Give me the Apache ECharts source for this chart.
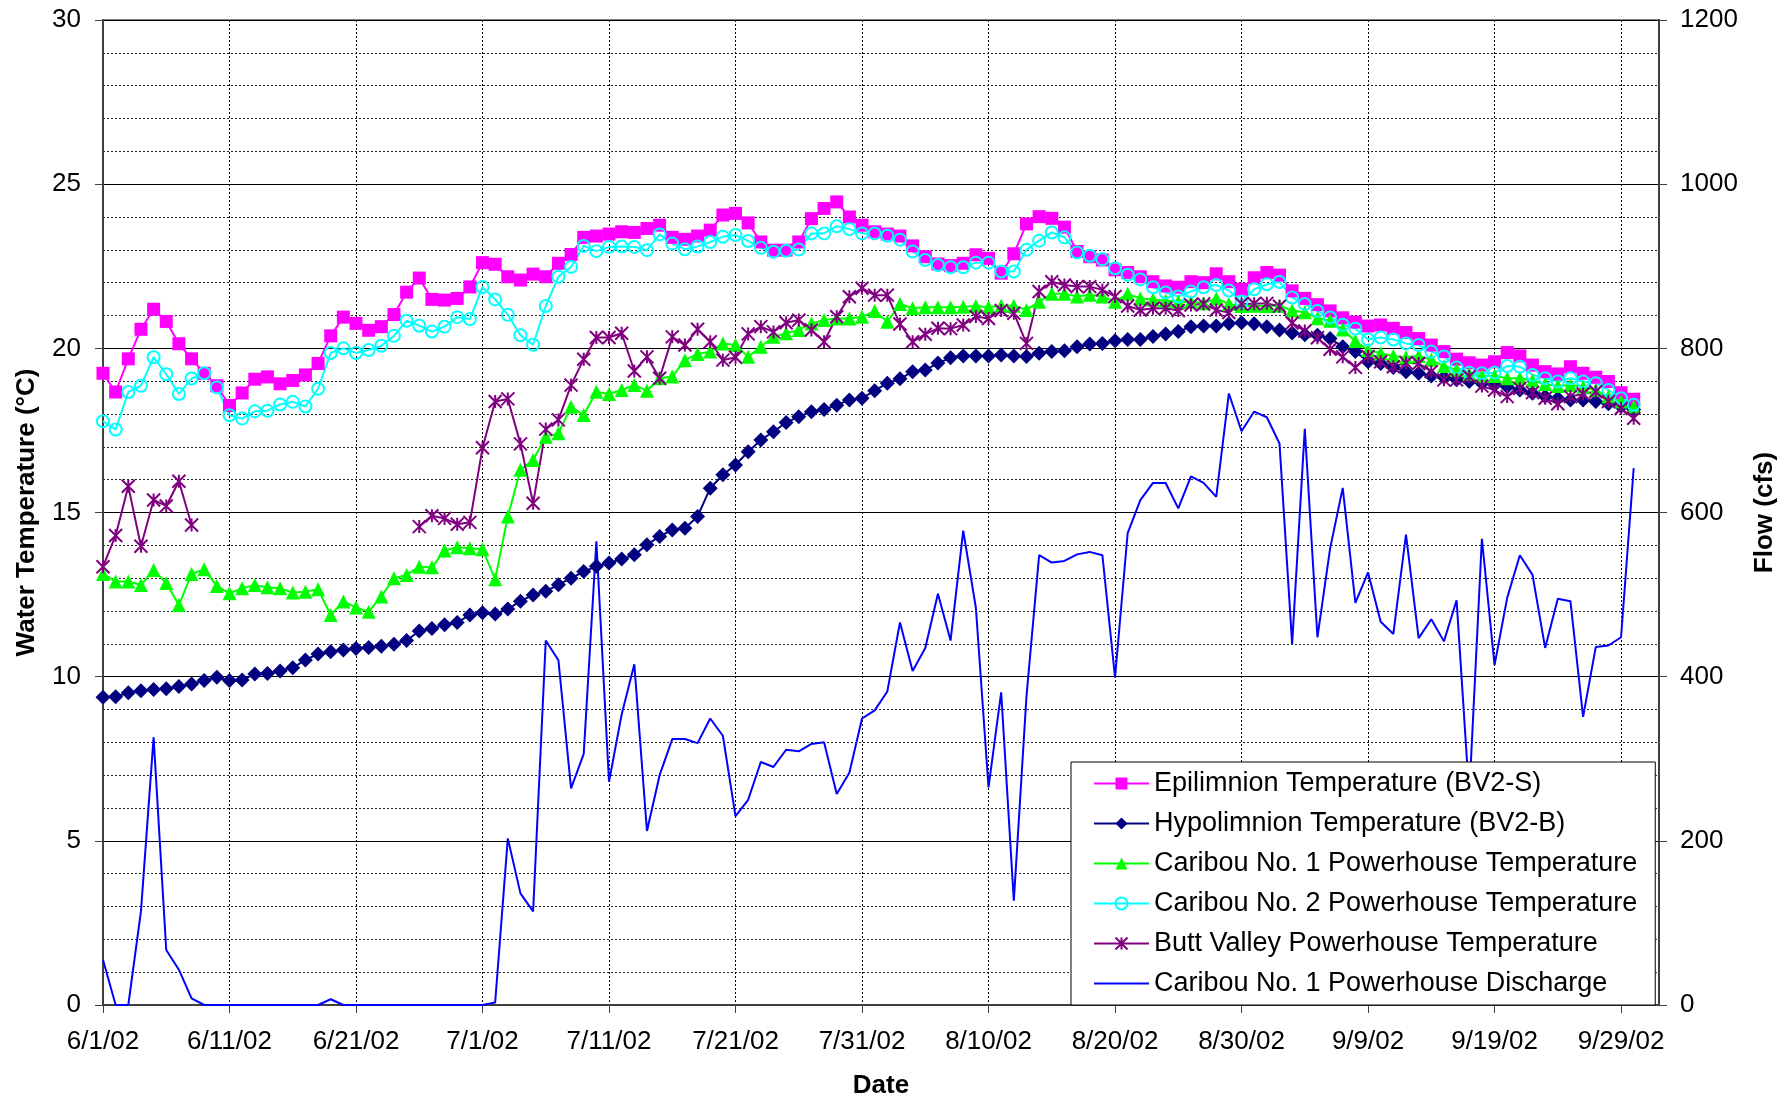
<!DOCTYPE html>
<html>
<head>
<meta charset="utf-8">
<script src="https://cdn.jsdelivr.net/npm/echarts@6/dist/echarts.min.js"></script>
<style>
  html, body { margin: 0; padding: 0; background: #fff; }
  #chart { width: 1791px; height: 1105px; }
</style>
</head>
<body>
<div id="chart"></div>
<script>
// daily dates 6/1/02 .. 10/2/02 (axis runs two days past the last sample)
var dates = [];
for (var i = 0; i < 124; i++) {
  var d = new Date(2002, 5, 1 + i);
  dates.push((d.getMonth() + 1) + '/' + d.getDate() + '/02');
}

var epilimnion = [
  19.24, 18.67, 19.68, 20.58, 21.19, 20.82, 20.14, 19.68, 19.24, 18.86,
  18.26, 18.64, 19.06, 19.13, 18.92, 19.02, 19.19, 19.54, 20.38, 20.95,
  20.76, 20.55, 20.66, 21.03, 21.71, 22.14, 21.49, 21.47, 21.52, 21.87,
  22.61, 22.56, 22.18, 22.08, 22.26, 22.18, 22.59, 22.86, 23.38, 23.42,
  23.48, 23.55, 23.53, 23.65, 23.75, 23.38, 23.32, 23.42, 23.6, 24.06,
  24.11, 23.82, 23.24, 22.99, 22.99, 23.24, 23.95, 24.26, 24.46, 24.0,
  23.75, 23.55, 23.48, 23.42, 23.12, 22.79, 22.57, 22.52, 22.59, 22.85,
  22.74, 22.29, 22.88, 23.79, 24.01, 23.96, 23.69, 22.95, 22.79, 22.69,
  22.39, 22.31, 22.18, 22.03, 21.9, 21.86, 22.03, 22.0, 22.27, 22.03,
  21.8, 22.15, 22.31, 22.23, 21.75, 21.52, 21.33, 21.14, 20.93, 20.8,
  20.68, 20.71, 20.61, 20.48, 20.3, 20.1, 19.9, 19.67, 19.56, 19.49,
  19.59, 19.87, 19.77, 19.49, 19.29, 19.22, 19.44, 19.24, 19.12, 18.99,
  18.65, 18.45
];

var hypolimnion = [
  9.37, 9.39, 9.51, 9.57, 9.61, 9.63, 9.7, 9.78, 9.88, 9.98,
  9.88, 9.9, 10.08, 10.1, 10.17, 10.27, 10.51, 10.69, 10.76, 10.81,
  10.86, 10.89, 10.93, 10.99, 11.1, 11.39, 11.47, 11.58, 11.65, 11.88,
  11.95, 11.91, 12.06, 12.3, 12.49, 12.6, 12.8, 13.0, 13.2, 13.36,
  13.46, 13.58, 13.71, 14.02, 14.27, 14.47, 14.52, 14.88, 15.74, 16.15,
  16.45, 16.85, 17.21, 17.46, 17.74, 17.92, 18.07, 18.14, 18.27, 18.43,
  18.48, 18.71, 18.94, 19.07, 19.29, 19.34, 19.55, 19.71, 19.77, 19.77,
  19.77, 19.8, 19.77, 19.75, 19.85, 19.9, 19.93, 20.05, 20.13, 20.15,
  20.23, 20.27, 20.27, 20.36, 20.44, 20.51, 20.66, 20.68, 20.68, 20.76,
  20.78, 20.75, 20.66, 20.56, 20.47, 20.41, 20.4, 20.3, 20.05, 19.9,
  19.59, 19.54, 19.42, 19.29, 19.24, 19.16, 19.12, 19.04, 18.99, 18.94,
  18.88, 18.83, 18.73, 18.63, 18.53, 18.48, 18.43, 18.43, 18.38, 18.31,
  18.23, 18.14
];

var caribou1Temp = [
  13.13, 12.9, 12.9, 12.79, 13.25, 12.85, 12.18, 13.13, 13.27, 12.76,
  12.54, 12.69, 12.79, 12.72, 12.69, 12.56, 12.59, 12.66, 11.88, 12.29,
  12.11, 11.98, 12.44, 13.0, 13.1, 13.35, 13.33, 13.84, 13.94, 13.91,
  13.88, 12.97, 14.88, 16.3, 16.6, 17.31, 17.41, 18.22, 17.97, 18.68,
  18.61, 18.73, 18.88, 18.71, 19.09, 19.14, 19.64, 19.83, 19.9, 20.15,
  20.1, 19.74, 20.05, 20.35, 20.46, 20.56, 20.76, 20.86, 20.91, 20.91,
  20.96, 21.14, 20.81, 21.35, 21.22, 21.25, 21.25, 21.25, 21.27, 21.29,
  21.25, 21.3, 21.3, 21.17, 21.42, 21.66, 21.66, 21.58, 21.63, 21.58,
  21.42, 21.66, 21.52, 21.49, 21.45, 21.42, 21.42, 21.37, 21.52, 21.35,
  21.29, 21.3, 21.29, 21.3, 21.15, 21.1, 20.92, 20.84, 20.57, 20.22,
  19.95, 19.85, 19.77, 19.73, 19.77, 19.65, 19.46, 19.34, 19.22, 19.16,
  19.16, 19.09, 19.09, 19.02, 18.91, 18.85, 18.88, 18.83, 18.73, 18.53,
  18.38, 18.23
];

var caribou2Temp = [
  17.78, 17.53, 18.67, 18.86, 19.73, 19.21, 18.61, 19.08, 19.24, 18.81,
  17.96, 17.86, 18.08, 18.1, 18.29, 18.37, 18.23, 18.77, 19.86, 20.0,
  19.86, 19.95, 20.08, 20.38, 20.84, 20.69, 20.51, 20.66, 20.95, 20.89,
  21.87, 21.49, 21.02, 20.4, 20.11, 21.29, 22.18, 22.48, 23.12, 22.96,
  23.09, 23.1, 23.09, 22.99, 23.47, 23.19, 23.02, 23.1, 23.24, 23.4,
  23.45, 23.27, 23.06, 22.94, 22.97, 23.01, 23.5, 23.5, 23.72, 23.63,
  23.5, 23.5, 23.43, 23.31, 22.95, 22.69, 22.54, 22.47, 22.47, 22.61,
  22.61, 22.34, 22.34, 23.0, 23.28, 23.53, 23.38, 22.92, 22.82, 22.71,
  22.44, 22.24, 22.1, 21.86, 21.7, 21.58, 21.73, 21.86, 21.93, 21.76,
  21.42, 21.8, 21.95, 22.02, 21.55, 21.35, 21.14, 20.94, 20.72, 20.6,
  20.27, 20.33, 20.27, 20.15, 20.1, 19.9, 19.75, 19.42, 19.26, 19.24,
  19.26, 19.46, 19.44, 19.19, 19.09, 18.99, 19.09, 18.99, 18.94, 18.73,
  18.48, 18.28
];

// no readings 6/9 - 6/25
var buttValleyTemp = [
  13.35, 14.3, 15.8, 13.97, 15.38, 15.2, 15.95, 14.62, null, null,
  null, null, null, null, null, null, null, null, null, null,
  null, null, null, null, null, 14.57, 14.9, 14.82, 14.64, 14.7,
  16.97, 18.38, 18.46, 17.09, 15.28, 17.54, 17.82, 18.88, 19.67, 20.33,
  20.33, 20.46, 19.31, 19.74, 19.09, 20.35, 20.1, 20.58, 20.2, 19.64,
  19.73, 20.44, 20.66, 20.5, 20.78, 20.86, 20.56, 20.2, 20.96, 21.57,
  21.83, 21.62, 21.62, 20.74, 20.2, 20.43, 20.61, 20.6, 20.71, 20.97,
  20.91, 21.15, 21.07, 20.15, 21.73, 22.03, 21.93, 21.88, 21.88, 21.78,
  21.58, 21.29, 21.17, 21.22, 21.22, 21.15, 21.32, 21.35, 21.17, 21.09,
  21.35, 21.36, 21.37, 21.28, 20.77, 20.53, 20.32, 19.97, 19.74, 19.42,
  19.75, 19.59, 19.44, 19.56, 19.54, 19.29, 19.04, 19.04, 19.14, 18.85,
  18.73, 18.53, 18.78, 18.65, 18.48, 18.31, 18.53, 18.61, 18.68, 18.38,
  18.17, 17.87
];

var caribou1Flow = [
  55, 0, 0, 114, 326, 67, 43, 8, 0, 0,
  0, 0, 0, 0, 0, 0, 0, 0, 7, 0,
  0, 0, 0, 0, 0, 0, 0, 0, 0, 0,
  0, 3, 203, 136, 114, 444, 420, 264, 306, 565,
  272, 354, 415, 212, 280, 324, 324, 319, 349, 328,
  230, 250, 296, 290, 311, 309, 318, 320, 257, 283,
  349, 359, 382, 466, 407, 435, 501, 444, 578, 484,
  265, 381, 127, 376, 548, 539, 541, 549, 552, 548,
  399, 575, 615, 636, 636, 605, 644, 636, 619, 745,
  699, 723, 716, 684, 440, 702, 448, 556, 630, 490,
  527, 467, 452, 573, 447, 470, 443, 493, 255, 568,
  414, 496, 548, 524, 435, 495, 492, 351, 436, 438,
  448, 654
];

var tempTicks = [0, 30, 5];
var flowTicks = [0, 1200, 200];

var FONT = 'Liberation Sans';
var starPath = 'path://M0,0L10,10M10,0L0,10M5,0L5,10';
var plainLineIcon = 'path://M0,0L55,0L55,2.2L0,2.2Z';

function tempSeries(name, data, color, symbol, size, itemStyle) {
  return {
    name: name,
    type: 'line',
    data: data,
    yAxisIndex: 0,
    symbol: symbol,
    symbolSize: size,
    showAllSymbol: true,
    connectNulls: false,
    lineStyle: {color: color, width: 2},
    itemStyle: itemStyle || {color: color},
    emphasis: {disabled: true}
  };
}

var myChart = echarts.init(document.getElementById('chart'), null, {renderer: 'canvas'});

myChart.setOption({
  animation: false,
  backgroundColor: '#fff',
  textStyle: {fontFamily: FONT, color: '#000'},
  grid: {
    left: 103, right: 132, top: 20, bottom: 100,
    show: true, borderColor: '#808080', borderWidth: 2, backgroundColor: '#fff'
  },
  legend: {
    orient: 'vertical',
    left: 1071,
    top: 762,
    padding: [8, 18, 8, 22],
    itemWidth: 55,
    itemHeight: 15,
    itemGap: 13,
    backgroundColor: '#fff',
    borderColor: '#000',
    borderWidth: 1,
    textStyle: {fontFamily: FONT, fontSize: 27, color: '#000'},
    data: [
      'Epilimnion Temperature (BV2-S)',
      'Hypolimnion Temperature (BV2-B)',
      'Caribou No. 1 Powerhouse Temperature',
      'Caribou No. 2 Powerhouse Temperature',
      'Butt Valley Powerhouse Temperature',
      {name: 'Caribou No. 1 Powerhouse Discharge', icon: plainLineIcon, itemStyle: {color: '#0000FF'}}
    ]
  },
  xAxis: {
    type: 'category',
    data: dates,
    boundaryGap: false,
    name: 'Date',
    nameLocation: 'middle',
    nameGap: 68,
    nameTextStyle: {fontFamily: FONT, fontSize: 26, fontWeight: 'bold', color: '#000'},
    axisLine: {lineStyle: {color: '#404040', width: 2}},
    axisTick: {show: true, interval: 9, length: 8, lineStyle: {color: '#404040'}},
    axisLabel: {interval: 9, margin: 24, fontSize: 26, color: '#000', fontFamily: FONT},
    splitLine: {show: true, interval: 9, lineStyle: {color: '#000', type: [2, 2], width: 1}}
  },
  yAxis: [
    {
      type: 'value',
      min: tempTicks[0],
      max: tempTicks[1],
      interval: tempTicks[2],
      name: 'Water Temperature (°C)',
      nameLocation: 'middle',
      nameGap: 63,
      nameRotate: 90,
      nameTextStyle: {fontFamily: FONT, fontSize: 26, fontWeight: 'bold', color: '#000'},
      axisLine: {show: true, lineStyle: {color: '#404040', width: 2}},
      axisTick: {show: true, length: 8, lineStyle: {color: '#404040'}},
      axisLabel: {margin: 22, fontSize: 26, color: '#000', fontFamily: FONT},
      splitLine: {show: true, lineStyle: {color: '#000', width: 1}},
      minorTick: {show: false, splitNumber: 5},
      minorSplitLine: {show: true, lineStyle: {color: '#222', type: [2, 2], width: 1}}
    },
    {
      type: 'value',
      position: 'right',
      min: flowTicks[0],
      max: flowTicks[1],
      interval: flowTicks[2],
      name: 'Flow (cfs)',
      nameLocation: 'middle',
      nameGap: 93,
      nameRotate: 90,
      nameTextStyle: {fontFamily: FONT, fontSize: 26, fontWeight: 'bold', color: '#000'},
      axisLine: {show: true, lineStyle: {color: '#404040', width: 2}},
      axisTick: {show: true, length: 8, lineStyle: {color: '#404040'}},
      axisLabel: {
        margin: 21, fontSize: 26, color: '#000', fontFamily: FONT,
        formatter: function (v) { return String(v); }
      },
      splitLine: {show: false}
    }
  ],
  series: [
    tempSeries('Epilimnion Temperature (BV2-S)', epilimnion, '#FF00FF', 'rect', 13),
    tempSeries('Hypolimnion Temperature (BV2-B)', hypolimnion, '#000080', 'diamond', 15),
    tempSeries('Caribou No. 1 Powerhouse Temperature', caribou1Temp, '#00FF00', 'triangle', 14),
    tempSeries('Caribou No. 2 Powerhouse Temperature', caribou2Temp, '#00FFFF', 'circle', 12,
      {color: 'rgba(255,255,255,0)', borderColor: '#00FFFF', borderWidth: 2}),
    tempSeries('Butt Valley Powerhouse Temperature', buttValleyTemp, '#800080', starPath, 13,
      {color: '#800080', borderColor: '#800080', borderWidth: 2}),
    {
      name: 'Caribou No. 1 Powerhouse Discharge',
      type: 'line',
      data: caribou1Flow,
      yAxisIndex: 1,
      showSymbol: false,
      symbol: 'none',
      lineStyle: {color: '#0000FF', width: 2},
      itemStyle: {color: '#0000FF'},
      emphasis: {disabled: true}
    }
  ]
});
</script>
</body>
</html>
